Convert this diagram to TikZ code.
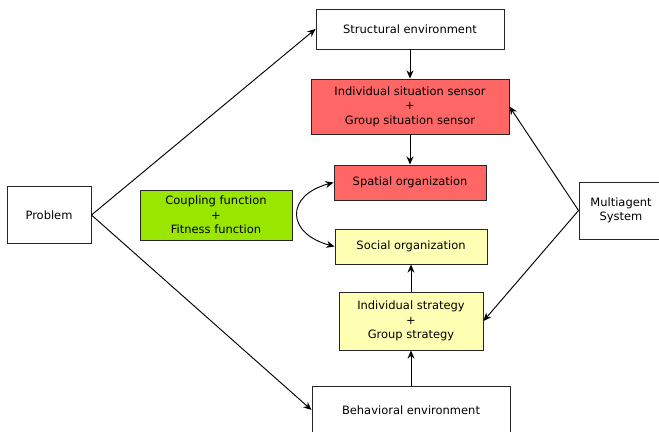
\documentclass[tikz,border=0pt]{standalone}
\usepackage{fontspec}
\setmainfont{DejaVu Sans}
\usetikzlibrary{arrows.meta}
\definecolor{sensorred}{HTML}{FF6666}
\definecolor{stratyellow}{HTML}{FFFFB3}
\definecolor{fitgreen}{HTML}{99E600}
\tikzset{
    box/.style={draw=black!85, thick, align=center, inner sep=0pt,
        font=\fontsize{9.8pt}{12.4pt}\selectfont},
    link/.style={thick, -{Stealth[length=7pt,width=6pt]}}
}

\begin{document}
\begin{tikzpicture}
    \useasboundingbox (0,0) rectangle (19.77,12.96);
    % Below nodes are the boxes.
        \node[box, minimum width=2.52cm, minimum height=1.71cm] (problem) at (1.47, 6.51) {Problem};
        \node[box, fill=fitgreen, minimum width=4.56cm, minimum height=1.5cm] (coupling) at (6.48, 6.51) {Coupling function\\+\\Fitness function};
        \node[box, minimum width=5.64cm, minimum height=1.2cm] (structenv) at (12.3, 12.09) {Structural environment};
        \node[box, fill=sensorred, minimum width=5.94cm, minimum height=1.65cm] (sensor) at (12.3, 9.765) {Individual situation sensor\\+\\Group situation sensor};
        \node[box, fill=sensorred, minimum width=4.56cm, minimum height=1.05cm] (spatial) at (12.3, 7.485) {Spatial organization};
        \node[box, fill=stratyellow, minimum width=4.56cm, minimum height=1.05cm] (social) at (12.33, 5.565) {Social organization};
        \node[box, fill=stratyellow, minimum width=4.32cm, minimum height=1.74cm] (strategy) at (12.33, 3.33) {Individual strategy\\+\\Group strategy};
        \node[box, minimum width=5.94cm, minimum height=1.44cm] (behavenv) at (12.33, 0.66) {Behavioral environment};
        \node[box, minimum width=2.52cm, minimum height=1.71cm] (multiagent) at (18.63, 6.645) {Multiagent\\System};
    % These draw the connectors.
        \draw[link] (problem.east) -- (structenv.west);
        \draw[link] (problem.east) -- (behavenv.west);
        \draw[link] (structenv) -- (sensor);
        \draw[link] (sensor) -- (spatial);
        \draw[link] (strategy) -- (social);
        \draw[link] (behavenv) -- (strategy);
        \draw[link] (multiagent.west) -- (sensor.east);
        \draw[link] (multiagent.west) -- (strategy.east);
        \draw[link, {Stealth[length=7pt,width=6pt]}-{Stealth[length=7pt,width=6pt]}] (spatial.west) to[out=195, in=165, looseness=2] (social.west);
\end{tikzpicture}
\end{document}
